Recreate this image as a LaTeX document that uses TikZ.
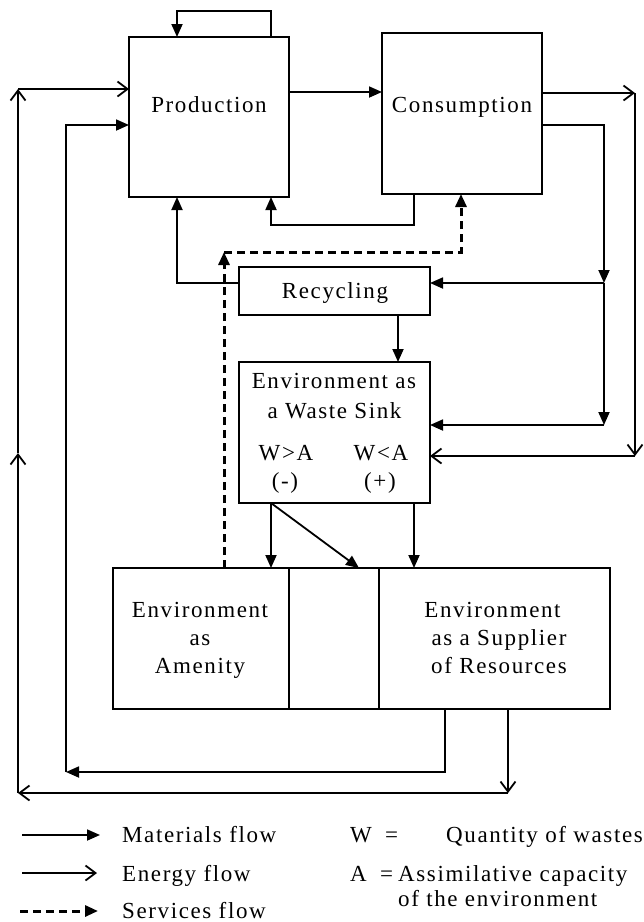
\documentclass[tikz,border=0pt]{standalone}
\usepackage{fontspec}
\setmainfont{Liberation Serif}[LetterSpace=7]
\usetikzlibrary{arrows.meta}
\newcommand\myfs{\fontsize{23pt}{27pt}\selectfont}
\tikzset{
  box/.style={draw, line width=1.8pt, inner sep=0pt, outer sep=0pt},
  mat/.style={line width=1.8pt, -{Triangle[length=13pt,width=11pt]}},
  en/.style={line width=1.8pt, -{Straight Barb[length=10pt,width=15pt,line width=1.8pt]}},
  serv/.style={line width=3pt, dash pattern=on 8pt off 5pt, -{Triangle[length=13pt,width=11pt]}},
  lbl/.style={anchor=base, inner sep=0pt, font=\myfs},
  lblw/.style={anchor=base west, inner sep=0pt, font=\myfs}
}
\begin{document}
\begin{tikzpicture}[x=1pt,y=-1pt]
\useasboundingbox (0,0) rectangle (644,922);
% boxes
\node[box, minimum width=160pt, minimum height=160pt] (prod) at (209,117) {};
\node[box, minimum width=160pt, minimum height=161pt] (cons) at (462,113.5) {};
\node[box, minimum width=191pt, minimum height=48pt] (recy) at (334.5,291) {};
\node[box, minimum width=191pt, minimum height=141pt] (sink) at (334.5,432.5) {};
\node[box, minimum width=176pt, minimum height=141pt] (amen) at (201,638.5) {};
\node[box, minimum width=90pt, minimum height=141pt] (mid) at (334,638.5) {};
\node[box, minimum width=231pt, minimum height=141pt] (supp) at (494.5,638.5) {};
% box texts
\node[lbl] (tprod) at (209,112) {Production};
\node[lbl] (tcons) at (462,112) {Consumption};
\node[lbl] (trecy) at (335,298) {Recycling};
\node[lbl] (ts1) at (334,388) {Environment as};
\node[lbl] (ts2) at (334.5,418) {a Waste Sink};
\node[lbl] (ts3) at (286,460) {W>A};
\node[lbl] (ts4) at (381,460) {W<A};
\node[lbl] (ts5) at (285,488) {(-)};
\node[lbl] (ts6) at (380,488) {(+)};
\node[lbl] (ta1) at (200,617) {Environment};
\node[lbl] (ta2) at (200,645) {as};
\node[lbl] (ta3) at (200,673) {Amenity};
\node[lbl] (tp1) at (492.5,617) {Environment};
\node[lbl] (tp2) at (499,645) {as a Supplier};
\node[lbl] (tp3) at (499,673) {of Resources};
% corner coordinates
\coordinate (loopL) at (177,11);
\coordinate (cR) at (635,93);
\coordinate (cRd) at (635,456);
\coordinate (j1) at (604,283);
\coordinate (j2) at (604,425);
\coordinate (cb) at (271,225);
\coordinate (sv) at (224,252);
\coordinate (m1) at (66,772);
\coordinate (e1) at (508,793);
\coordinate (e2) at (18,793);
\coordinate (e3) at (18,453);
\coordinate (e4) at (18,89);
% production self loop
\draw[mat] (prod.north -| 271,0) |- (loopL) -- (prod.north -| loopL);
% production -> consumption
\draw[mat] (prod.east |- 0,92) -- (cons.west |- 0,92);
% consumption energy out
\draw[en] (cons.east |- cR) -- (cR);
\draw[en] (cR) -- (cRd);
\draw[en] (cRd) -- (sink.east |- cRd);
% consumption materials out
\draw[mat] (cons.east |- 0,125) -| (j1);
\draw[mat] (j1) -- (recy.east |- j1);
\draw[mat] (j1) -- (j2);
\draw[mat] (j2) -- (sink.east |- j2);
% consumption -> production (bottom)
\draw[mat] (cons.south -| 414,0) |- (cb) -- (prod.south -| cb);
% recycling -> production
\draw[mat] (recy.west |- j1) -| (prod.south -| loopL);
% recycling -> sink
\draw[mat] (recy.south -| 398,0) -- (sink.north -| 398,0);
% services flow
\draw[serv] (amen.north -| sv) -- (sv);
\draw[serv] (sv) -| (cons.south -| 461,0);
% sink -> lower boxes
\draw[mat] (sink.south -| 271,0) -- (amen.north -| 271,0);
\draw[mat] (sink.south -| 271,0) -- (mid.north -| 359,0);
\draw[mat] (sink.south -| 414,0) -- (supp.north -| 414,0);
% supplier -> production materials
\draw[mat] (supp.south -| 445,0) |- (m1);
\draw[mat] (m1) |- (prod.west |- 0,125);
% supplier -> production energy
\draw[en] (supp.south -| e1) -- (e1);
\draw[en] (e1) -- (e2);
\draw[en] (e2) -- (e3);
\draw[en] (e3) -- (e4);
\draw[en] (e4) -- (prod.west |- e4);
% legend
\coordinate (lg1a) at (22,835); \coordinate (lg1b) at (100,835);
\coordinate (lg2a) at (22,873); \coordinate (lg2b) at (97,873);
\coordinate (lg3a) at (20,911); \coordinate (lg3b) at (98,911);
\draw[mat] (lg1a) -- (lg1b);
\draw[en] (lg2a) -- (lg2b);
\draw[serv] (lg3a) -- (lg3b);
\node[lblw] (l1) at (122,842) {Materials flow};
\node[lblw] (l2) at (122,881) {Energy flow};
\node[lblw] (l3) at (122,918) {Services flow};
\node[lblw] (w1) at (350,842) {W};
\node[lblw] (w2) at (385,842) {=};
\node[lblw] (w3) at (446,842) {Quantity of wastes};
\node[lblw] (a1) at (350,881) {A};
\node[lblw] (a2) at (380,881) {=};
\node[lblw] (a3) at (398,881) {Assimilative capacity};
\node[lblw] (a4) at (398,906) {of the environment};
\end{tikzpicture}
\end{document}
